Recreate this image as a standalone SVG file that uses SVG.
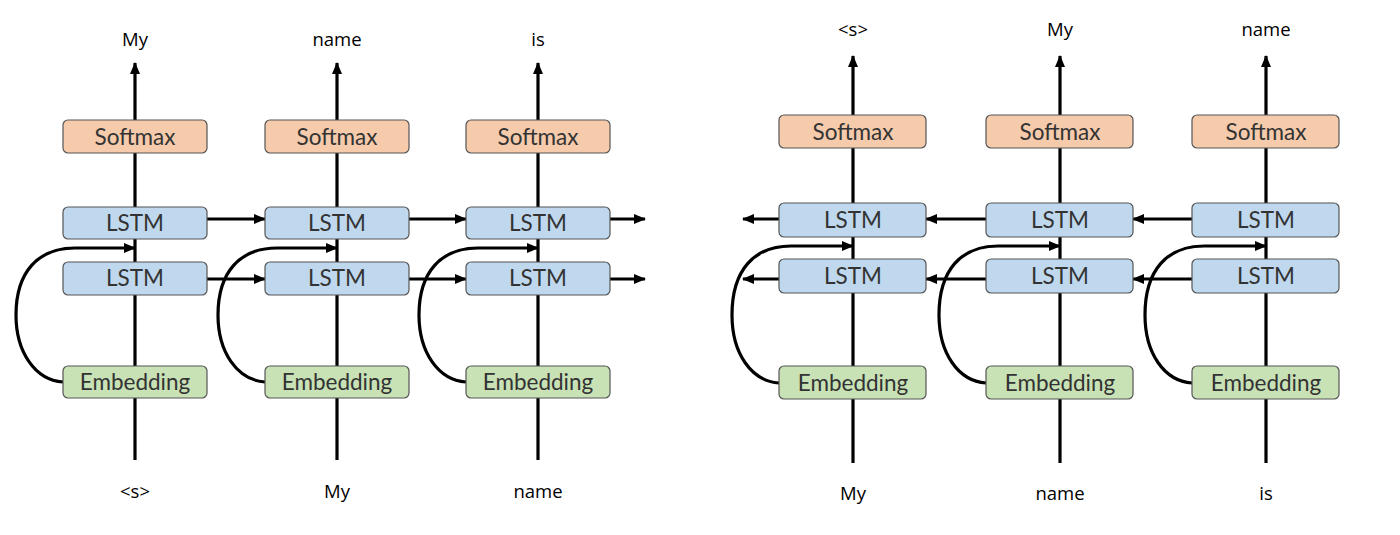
<svg xmlns="http://www.w3.org/2000/svg" width="1400" height="535" viewBox="0 0 1400 535">
<defs>
<marker id="ah" viewBox="0 0 12 10" refX="11" refY="5" markerWidth="12" markerHeight="10" markerUnits="userSpaceOnUse" orient="auto">
<path d="M0,0 L12,5 L0,10 Z" fill="#000"/>
</marker>
<style>
.ln{stroke:#000;stroke-width:3;fill:none}
.ar{stroke:#000;stroke-width:3.2;fill:none;marker-end:url(#ah)}
.box{stroke:#555;stroke-width:1.2}
.sm{fill:#F6CBAC}
.ls{fill:#BFD8EE}
.em{fill:#C8E2B6}
.bt{font-family:"Lato","Noto Sans",sans-serif;font-size:22.5px;fill:#333;text-anchor:middle;dominant-baseline:central}
.wt{font-family:"Open Sans","Liberation Sans",sans-serif;font-size:18.5px;fill:#000;text-anchor:middle;dominant-baseline:central}
</style>
</defs>
<rect width="1400" height="535" fill="#fff"/>
<g id="connectors">
<path class="ar" d="M135,460 V63"/>
<path class="ar" d="M337,460 V63"/>
<path class="ar" d="M538,460 V63"/>
<path class="ar" d="M207,219 H265"/>
<path class="ar" d="M409,219 H466"/>
<path class="ar" d="M610,219 H645"/>
<path class="ar" d="M207,279 H265"/>
<path class="ar" d="M409,279 H466"/>
<path class="ar" d="M610,279 H645"/>
<path class="ar" d="M63,382 C35,380 16,352 16,315 C16,272 38,248 75,248 L135,248"/>
<path class="ar" d="M265,382 C237,380 218,352 218,315 C218,272 240,248 277,248 L337,248"/>
<path class="ar" d="M466,382 C438,380 419,352 419,315 C419,272 441,248 478,248 L538,248"/>
<path class="ar" d="M853,463 V56"/>
<path class="ar" d="M1060,463 V56"/>
<path class="ar" d="M1266,463 V56"/>
<path class="ar" d="M779,219 H743"/>
<path class="ar" d="M986,219 H926"/>
<path class="ar" d="M1192,219 H1133"/>
<path class="ar" d="M779,279 H743"/>
<path class="ar" d="M986,279 H926"/>
<path class="ar" d="M1192,279 H1133"/>
<path class="ar" d="M779,383 C751,381 732,353 732,315 C732,270 754,246 791,246 L853,246"/>
<path class="ar" d="M986,383 C958,381 939,353 939,315 C939,270 961,246 998,246 L1060,246"/>
<path class="ar" d="M1192,383 C1164,381 1145,353 1145,315 C1145,270 1167,246 1204,246 L1266,246"/>
</g>
<g id="L1">
<g id="L1-softmax"><rect class="box sm" x="63" y="120" width="144" height="33" rx="5"/><text class="bt" x="135" y="136">Softmax</text></g>
<g id="L1-lstm1"><rect class="box ls" x="63" y="207" width="144" height="32" rx="5"/><text class="bt" x="135" y="222">LSTM</text></g>
<g id="L1-lstm2"><rect class="box ls" x="63" y="262" width="144" height="33" rx="5"/><text class="bt" x="135" y="277">LSTM</text></g>
<g id="L1-emb"><rect class="box em" x="63" y="366" width="144" height="32" rx="5"/><text class="bt" x="135" y="381">Embedding</text></g>
<text class="wt" x="135" y="38">My</text><text class="wt" x="135" y="490">&lt;s&gt;</text>
</g>
<g id="L2">
<g id="L2-softmax"><rect class="box sm" x="265" y="120" width="144" height="33" rx="5"/><text class="bt" x="337" y="136">Softmax</text></g>
<g id="L2-lstm1"><rect class="box ls" x="265" y="207" width="144" height="32" rx="5"/><text class="bt" x="337" y="222">LSTM</text></g>
<g id="L2-lstm2"><rect class="box ls" x="265" y="262" width="144" height="33" rx="5"/><text class="bt" x="337" y="277">LSTM</text></g>
<g id="L2-emb"><rect class="box em" x="265" y="366" width="144" height="32" rx="5"/><text class="bt" x="337" y="381">Embedding</text></g>
<text class="wt" x="337" y="38">name</text><text class="wt" x="337" y="490">My</text>
</g>
<g id="L3">
<g id="L3-softmax"><rect class="box sm" x="466" y="120" width="144" height="33" rx="5"/><text class="bt" x="538" y="136">Softmax</text></g>
<g id="L3-lstm1"><rect class="box ls" x="466" y="207" width="144" height="32" rx="5"/><text class="bt" x="538" y="222">LSTM</text></g>
<g id="L3-lstm2"><rect class="box ls" x="466" y="262" width="144" height="33" rx="5"/><text class="bt" x="538" y="277">LSTM</text></g>
<g id="L3-emb"><rect class="box em" x="466" y="366" width="144" height="32" rx="5"/><text class="bt" x="538" y="381">Embedding</text></g>
<text class="wt" x="538" y="38">is</text><text class="wt" x="538" y="490">name</text>
</g>
<g id="R1">
<g id="R1-softmax"><rect class="box sm" x="779" y="115" width="147" height="33" rx="5"/><text class="bt" x="853" y="131">Softmax</text></g>
<g id="R1-lstm1"><rect class="box ls" x="779" y="203" width="147" height="34" rx="5"/><text class="bt" x="853" y="219">LSTM</text></g>
<g id="R1-lstm2"><rect class="box ls" x="779" y="259" width="147" height="34" rx="5"/><text class="bt" x="853" y="275">LSTM</text></g>
<g id="R1-emb"><rect class="box em" x="779" y="366" width="147" height="33" rx="5"/><text class="bt" x="853" y="382">Embedding</text></g>
<text class="wt" x="853" y="28">&lt;s&gt;</text><text class="wt" x="853" y="492">My</text>
</g>
<g id="R2">
<g id="R2-softmax"><rect class="box sm" x="986" y="115" width="147" height="33" rx="5"/><text class="bt" x="1060" y="131">Softmax</text></g>
<g id="R2-lstm1"><rect class="box ls" x="986" y="203" width="147" height="34" rx="5"/><text class="bt" x="1060" y="219">LSTM</text></g>
<g id="R2-lstm2"><rect class="box ls" x="986" y="259" width="147" height="34" rx="5"/><text class="bt" x="1060" y="275">LSTM</text></g>
<g id="R2-emb"><rect class="box em" x="986" y="366" width="147" height="33" rx="5"/><text class="bt" x="1060" y="382">Embedding</text></g>
<text class="wt" x="1060" y="28">My</text><text class="wt" x="1060" y="492">name</text>
</g>
<g id="R3">
<g id="R3-softmax"><rect class="box sm" x="1192" y="115" width="147" height="33" rx="5"/><text class="bt" x="1266" y="131">Softmax</text></g>
<g id="R3-lstm1"><rect class="box ls" x="1192" y="203" width="147" height="34" rx="5"/><text class="bt" x="1266" y="219">LSTM</text></g>
<g id="R3-lstm2"><rect class="box ls" x="1192" y="259" width="147" height="34" rx="5"/><text class="bt" x="1266" y="275">LSTM</text></g>
<g id="R3-emb"><rect class="box em" x="1192" y="366" width="147" height="33" rx="5"/><text class="bt" x="1266" y="382">Embedding</text></g>
<text class="wt" x="1266" y="28">name</text><text class="wt" x="1266" y="492">is</text>
</g>
</svg>
